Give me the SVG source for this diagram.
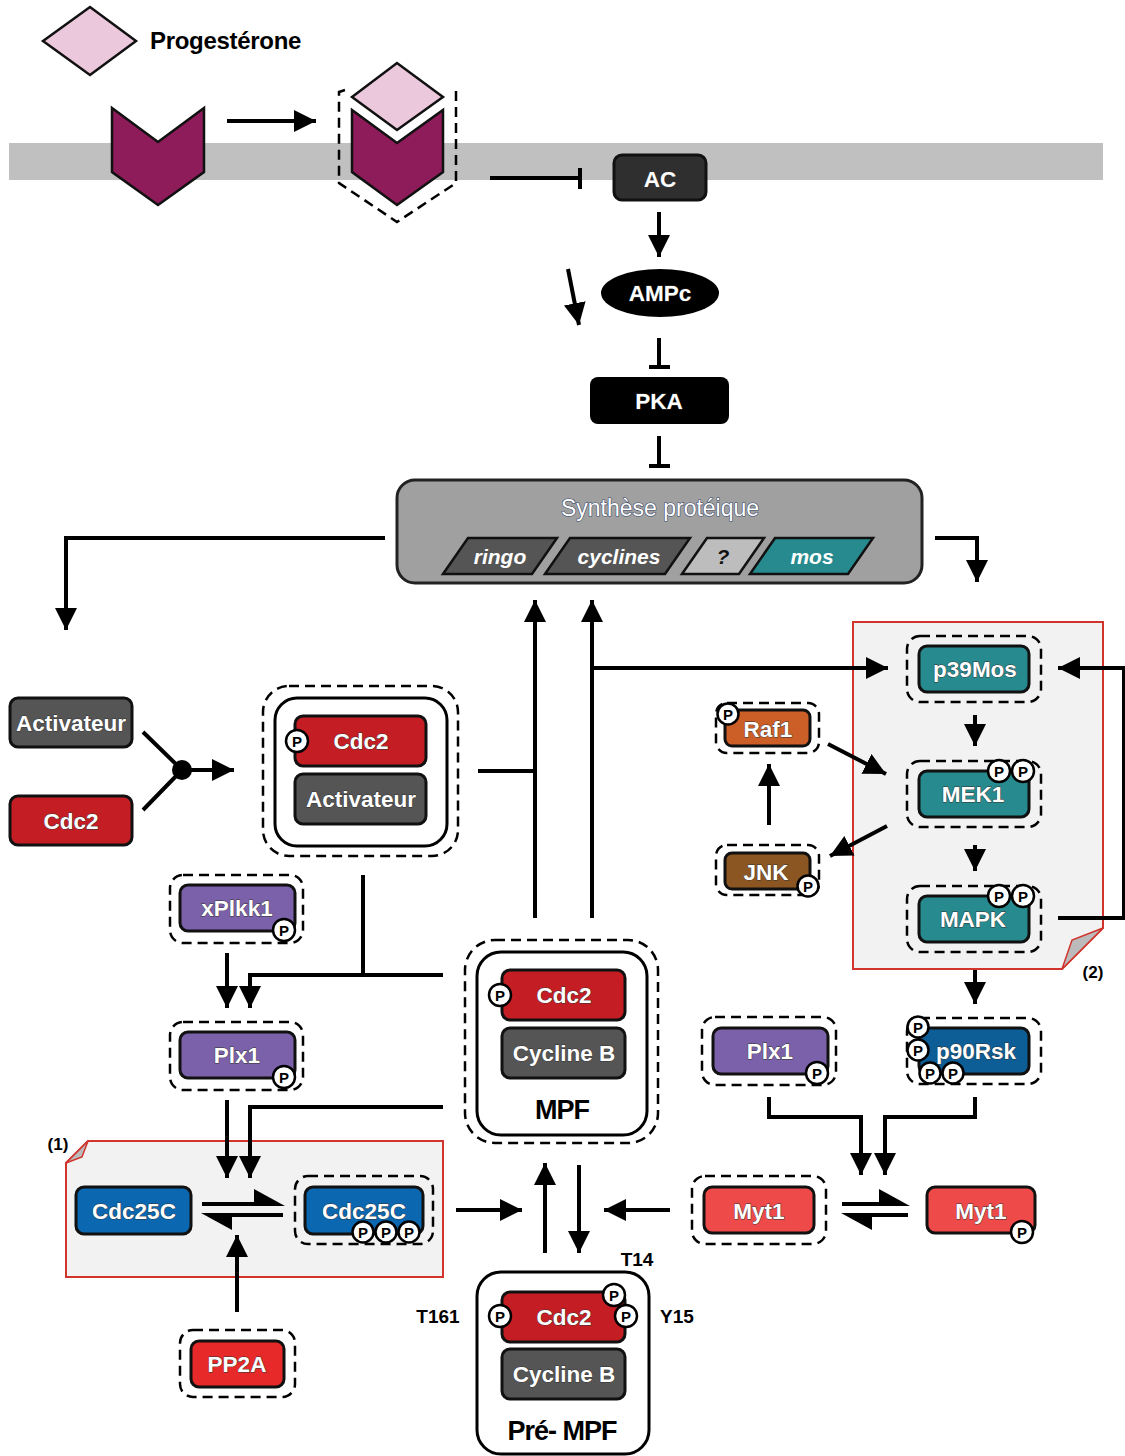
<svg xmlns="http://www.w3.org/2000/svg" width="1125" height="1456" viewBox="0 0 1125 1456">
<defs>
<marker id="arr" viewBox="0 0 10 10" refX="10" refY="5" markerWidth="22" markerHeight="22" markerUnits="userSpaceOnUse" orient="auto"><path d="M0,0 L10,5 L0,10 z" fill="#000"/></marker>
<style>
.c{fill:none;stroke:#000;stroke-width:4}
.dash{fill:none;stroke:#000;stroke-width:2.5;stroke-dasharray:10 6}
.box{stroke:#111;stroke-width:3}
.t{font-family:"Liberation Sans",Arial,sans-serif;font-weight:bold;font-size:22.5px;fill:#fff;text-anchor:middle;paint-order:stroke;stroke:#333;stroke-width:0.8}
.lbl{font-family:"Liberation Sans",Arial,sans-serif;font-weight:bold;fill:#000;text-anchor:middle}
.pc{fill:#fff;stroke:#000;stroke-width:2.5}
.pt{font-family:"Liberation Sans",Arial,sans-serif;font-weight:bold;font-size:15px;fill:#000;text-anchor:middle}
.it{font-family:"Liberation Sans",Arial,sans-serif;font-weight:bold;font-style:italic;font-size:21px;fill:#fff;text-anchor:middle}
.red{fill:#c41e24}.gray{fill:#555}.purple{fill:#7b61a9}.teal{fill:#268a8e}.blue{fill:#0a67b0}
</style>
</defs>
<rect width="1125" height="1456" fill="#fff"/>
<!-- membrane -->
<rect x="9" y="143" width="1094" height="37" fill="#c0c0c0"/>

<g id="progesterone">
<polygon points="43,41 90,7 136,41 90,75" fill="#ecc8dc" stroke="#111" stroke-width="2.5"/>
<text x="150" y="49" class="lbl" style="text-anchor:start;font-size:24px;letter-spacing:-0.3px">Progestérone</text>
</g>
<g id="receptor">
<polygon points="112,108 158,142 204,108 204,172 158,205 112,172" fill="#8e1b5a" stroke="#111" stroke-width="2.5"/>
</g>
<g id="receptor-bound">
<polygon points="352,110 397,143 443,110 443,172 397,205 352,172" fill="#8e1b5a" stroke="#111" stroke-width="2.5"/>
<polygon points="352,97 397,63 443,97 397,130" fill="#ecc8dc" stroke="#111" stroke-width="2.5"/>
<path d="M345,90 L339,92 L339,183 L397,222 L456,183 L456,85" class="dash"/>
</g>
<g id="AC">
<rect x="614" y="155" width="92" height="45" rx="8" fill="#2f2f2f" class="box"/>
<text x="660" y="187" class="t">AC</text>
</g>
<g id="AMPc">
<ellipse cx="660" cy="293" rx="59" ry="24" fill="#000"/>
<text x="660" y="301" class="t">AMPc</text>
</g>
<g id="PKA">
<rect x="590" y="377" width="139" height="47" rx="8" fill="#000"/>
<text x="659" y="409" class="t">PKA</text>
</g>
<g id="synthese">
<rect x="397" y="480" width="525" height="103" rx="18" fill="#a0a0a0" stroke="#222" stroke-width="3"/>
<text x="660" y="516" style="font-family:'Liberation Sans',Arial,sans-serif;font-size:23px;fill:#fff;text-anchor:middle;paint-order:stroke;stroke:#3a4a6a;stroke-width:1.2">Synthèse protéique</text>
<polygon points="443,574 468,538 557,538 532,574" fill="#555" stroke="#111" stroke-width="2.5"/>
<text x="500" y="564" class="it">ringo</text>
<polygon points="545,574 570,538 690,538 665,574" fill="#555" stroke="#111" stroke-width="2.5"/>
<text x="619" y="564" class="it">cyclines</text>
<polygon points="682,574 707,538 764,538 739,574" fill="#bdbdbd" stroke="#111" stroke-width="2.5"/>
<text x="723" y="564" class="it" style="fill:#111">?</text>
<polygon points="750,574 775,538 873,538 848,574" fill="#268a8e" stroke="#111" stroke-width="2.5"/>
<text x="812" y="564" class="it">mos</text>
</g>

<g id="activateur">
<rect x="10" y="698" width="122" height="49" rx="8" class="gray box"/>
<text x="71" y="731" class="t">Activateur</text>
</g>
<g id="cdc2">
<rect x="10" y="796" width="122" height="49" rx="8" class="red box"/>
<text x="71" y="829" class="t">Cdc2</text>
</g>
<g id="complex-cdc2-activateur">
<rect x="263" y="686" width="195" height="170" rx="26" class="dash"/>
<rect x="275" y="698" width="172" height="148" rx="22" fill="#fff" stroke="#000" stroke-width="3"/>
<rect x="295" y="716" width="131" height="50" rx="8" class="red box"/>
<text x="361" y="749" class="t">Cdc2</text>
<circle cx="297" cy="741" r="11" class="pc"/><text x="297" y="746.5" class="pt">P</text>
<rect x="295" y="774" width="131" height="50" rx="8" class="gray box"/>
<text x="361" y="807" class="t">Activateur</text>
</g>

<g id="xPlkk1">
<rect x="170" y="875" width="133" height="68" rx="13" class="dash"/>
<rect x="180" y="885" width="115" height="46" rx="8" class="purple box"/>
<text x="237" y="916" class="t">xPlkk1</text>
<circle cx="284" cy="930" r="11" class="pc"/><text x="284" y="935.5" class="pt">P</text>
</g>
<g id="Plx1-left">
<rect x="170" y="1022" width="133" height="68" rx="13" class="dash"/>
<rect x="180" y="1032" width="115" height="46" rx="8" class="purple box"/>
<text x="237" y="1063" class="t">Plx1</text>
<circle cx="284" cy="1077" r="11" class="pc"/><text x="284" y="1082.5" class="pt">P</text>
</g>

<g id="box1">
<path d="M88,1141 L443,1141 L443,1277 L66,1277 L66,1163 Z" fill="#f2f2f2" stroke="#d0342c" stroke-width="2"/>
<path d="M66,1163 L88,1141 L82,1157 Z" fill="#bbb" stroke="#d0342c" stroke-width="1.5"/>
<text x="58" y="1150" class="lbl" style="font-size:17px">(1)</text>
</g>
<g id="Cdc25C">
<rect x="76" y="1187" width="115" height="47" rx="8" class="blue box"/>
<text x="134" y="1219" class="t">Cdc25C</text>
</g>
<g id="Cdc25C-P">
<rect x="295" y="1176" width="138" height="68" rx="13" class="dash"/>
<rect x="305" y="1187" width="118" height="47" rx="8" class="blue box"/>
<text x="364" y="1219" class="t">Cdc25C</text>
<circle cx="363" cy="1232" r="10.5" class="pc"/><text x="363" y="1237.5" class="pt">P</text>
<circle cx="386" cy="1232" r="10.5" class="pc"/><text x="386" y="1237.5" class="pt">P</text>
<circle cx="409" cy="1232" r="10.5" class="pc"/><text x="409" y="1237.5" class="pt">P</text>
</g>
<g id="PP2A">
<rect x="180" y="1330" width="115" height="67" rx="13" class="dash"/>
<rect x="191" y="1341" width="93" height="46" rx="8" fill="#e8292a" class="box"/>
<text x="237" y="1372" class="t">PP2A</text>
</g>

<g id="MPF">
<rect x="465" y="940" width="193" height="203" rx="30" class="dash"/>
<rect x="477" y="952" width="170" height="183" rx="24" fill="#fff" stroke="#000" stroke-width="3"/>
<rect x="502" y="970" width="123" height="50" rx="8" class="red box"/>
<text x="564" y="1003" class="t">Cdc2</text>
<circle cx="500" cy="995" r="11" class="pc"/><text x="500" y="1000.5" class="pt">P</text>
<rect x="502" y="1028" width="123" height="50" rx="8" class="gray box"/>
<text x="564" y="1061" class="t">Cycline B</text>
<text x="562" y="1119" class="lbl" style="font-size:27px;letter-spacing:-1px">MPF</text>
</g>

<g id="pre-MPF">
<rect x="477" y="1272" width="172" height="182" rx="24" fill="#fff" stroke="#000" stroke-width="3"/>
<rect x="502" y="1292" width="123" height="50" rx="8" class="red box"/>
<text x="564" y="1325" class="t">Cdc2</text>
<circle cx="500" cy="1316" r="11" class="pc"/><text x="500" y="1321.5" class="pt">P</text>
<circle cx="614" cy="1295" r="11" class="pc"/><text x="614" y="1300.5" class="pt">P</text>
<circle cx="626" cy="1316" r="11" class="pc"/><text x="626" y="1321.5" class="pt">P</text>
<rect x="502" y="1349" width="123" height="50" rx="8" class="gray box"/>
<text x="564" y="1382" class="t">Cycline B</text>
<text x="562" y="1440" class="lbl" style="font-size:27px;letter-spacing:-1px">Pré- MPF</text>
<text x="438" y="1323" class="lbl" style="font-size:19px">T161</text>
<text x="637" y="1266" class="lbl" style="font-size:19px">T14</text>
<text x="677" y="1323" class="lbl" style="font-size:19px">Y15</text>
</g>

<g id="box2">
<path d="M853,622 L1103,622 L1103,928 L1062,969 L853,969 Z" fill="#f2f2f2" stroke="#d0342c" stroke-width="2"/>
<path d="M1103,928 L1062,969 L1072,940 Z" fill="#bbb" stroke="#d0342c" stroke-width="1.5"/>
<text x="1093" y="978" class="lbl" style="font-size:17px">(2)</text>
</g>
<g id="p39Mos">
<rect x="907" y="636" width="134" height="66" rx="13" class="dash"/>
<rect x="919" y="646" width="110" height="46" rx="8" class="teal box"/>
<text x="975" y="677" class="t">p39Mos</text>
</g>
<g id="MEK1">
<rect x="907" y="761" width="134" height="66" rx="13" class="dash"/>
<rect x="919" y="771" width="110" height="46" rx="8" class="teal box"/>
<text x="973" y="802" class="t">MEK1</text>
<circle cx="999" cy="771" r="11" class="pc"/><text x="999" y="776.5" class="pt">P</text>
<circle cx="1023" cy="771" r="11" class="pc"/><text x="1023" y="776.5" class="pt">P</text>
</g>
<g id="MAPK">
<rect x="907" y="886" width="134" height="66" rx="13" class="dash"/>
<rect x="919" y="896" width="110" height="46" rx="8" class="teal box"/>
<text x="973" y="927" class="t">MAPK</text>
<circle cx="999" cy="896" r="11" class="pc"/><text x="999" y="901.5" class="pt">P</text>
<circle cx="1023" cy="896" r="11" class="pc"/><text x="1023" y="901.5" class="pt">P</text>
</g>
<g id="p90Rsk">
<rect x="907" y="1018" width="134" height="66" rx="13" class="dash"/>
<rect x="919" y="1028" width="110" height="46" rx="8" fill="#0d5e96" class="box"/>
<text x="976" y="1059" class="t">p90Rsk</text>
<circle cx="918" cy="1027" r="10.5" class="pc"/><text x="918" y="1032.5" class="pt">P</text>
<circle cx="918" cy="1050" r="10.5" class="pc"/><text x="918" y="1055.5" class="pt">P</text>
<circle cx="930" cy="1073" r="10.5" class="pc"/><text x="930" y="1078.5" class="pt">P</text>
<circle cx="953" cy="1073" r="10.5" class="pc"/><text x="953" y="1078.5" class="pt">P</text>
</g>
<g id="Raf1">
<rect x="716" y="703" width="103" height="50" rx="11" class="dash"/>
<rect x="725" y="710" width="85" height="36" rx="7" fill="#cc5f28" class="box"/>
<text x="768" y="737" class="t">Raf1</text>
<circle cx="728" cy="714" r="10.5" class="pc"/><text x="728" y="719.5" class="pt">P</text>
</g>
<g id="JNK">
<rect x="716" y="845" width="103" height="50" rx="11" class="dash"/>
<rect x="725" y="853" width="85" height="36" rx="7" fill="#8c5622" class="box"/>
<text x="766" y="880" class="t">JNK</text>
<circle cx="808" cy="886" r="10.5" class="pc"/><text x="808" y="891.5" class="pt">P</text>
</g>
<g id="Plx1-right">
<rect x="702" y="1017" width="134" height="68" rx="13" class="dash"/>
<rect x="713" y="1028" width="115" height="46" rx="8" class="purple box"/>
<text x="770" y="1059" class="t">Plx1</text>
<circle cx="817" cy="1073" r="11" class="pc"/><text x="817" y="1078.5" class="pt">P</text>
</g>
<g id="Myt1">
<rect x="692" y="1176" width="134" height="68" rx="13" class="dash"/>
<rect x="704" y="1187" width="110" height="46" rx="8" fill="#ef4a4a" class="box"/>
<text x="759" y="1219" class="t">Myt1</text>
</g>
<g id="Myt1-P">
<rect x="927" y="1187" width="108" height="46" rx="8" fill="#ef4a4a" class="box"/>
<text x="981" y="1219" class="t">Myt1</text>
<circle cx="1022" cy="1232" r="11" class="pc"/><text x="1022" y="1237.5" class="pt">P</text>
</g>

<g id="connectors">
<line x1="227" y1="121" x2="316" y2="121" class="c" marker-end="url(#arr)"/>
<path d="M490,178 H580 M580,168 V189" class="c"/>
<line x1="659" y1="212" x2="659" y2="257" class="c" marker-end="url(#arr)"/>
<line x1="568" y1="269" x2="579" y2="325" class="c" marker-end="url(#arr)"/>
<path d="M659,338 V367 M649,367 H670" class="c"/>
<path d="M659,436 V466 M649,466 H670" class="c"/>
<path d="M385,538 H66 V630" class="c" marker-end="url(#arr)"/>
<path d="M935,538 H977 V582" class="c" marker-end="url(#arr)"/>
<line x1="535" y1="918" x2="535" y2="600" class="c" marker-end="url(#arr)"/>
<line x1="592" y1="918" x2="592" y2="600" class="c" marker-end="url(#arr)"/>
<path d="M592,668 H888" class="c" marker-end="url(#arr)"/>
<path d="M478,771 H535" class="c"/>
<path d="M143,732 L182,770 L143,810" class="c"/>
<circle cx="182" cy="770" r="10" fill="#000"/>
<line x1="182" y1="770" x2="234" y2="770" class="c" marker-end="url(#arr)"/>
<path d="M363,875 V975" class="c"/>
<path d="M443,975 H250 V1008" class="c" marker-end="url(#arr)"/>
<line x1="227" y1="953" x2="227" y2="1008" class="c" marker-end="url(#arr)"/>
<line x1="227" y1="1100" x2="227" y2="1178" class="c" marker-end="url(#arr)"/>
<path d="M443,1107 H250 V1178" class="c" marker-end="url(#arr)"/>
<!-- Cdc25C equilibrium -->
<path d="M202,1204 H270" class="c"/><path d="M254,1189 L285,1206 L254,1206 Z" fill="#000"/>
<path d="M283,1215 H215" class="c"/><path d="M232,1230 L201,1213 L232,1213 Z" fill="#000"/>
<line x1="237" y1="1312" x2="237" y2="1235" class="c" marker-end="url(#arr)"/>
<line x1="456" y1="1210" x2="522" y2="1210" class="c" marker-end="url(#arr)"/>
<line x1="545" y1="1253" x2="545" y2="1163" class="c" marker-end="url(#arr)"/>
<line x1="579" y1="1165" x2="579" y2="1253" class="c" marker-end="url(#arr)"/>
<line x1="670" y1="1210" x2="604" y2="1210" class="c" marker-end="url(#arr)"/>
<!-- Myt1 equilibrium -->
<path d="M842,1204 H895" class="c"/><path d="M879,1189 L910,1206 L879,1206 Z" fill="#000"/>
<path d="M908,1215 H855" class="c"/><path d="M872,1230 L841,1213 L872,1213 Z" fill="#000"/>
<path d="M769,1097 V1117 H861 V1175" class="c" marker-end="url(#arr)"/>
<path d="M975,1097 V1117 H885 V1175" class="c" marker-end="url(#arr)"/>
<!-- MAPK cascade -->
<line x1="975" y1="715" x2="975" y2="746" class="c" marker-end="url(#arr)"/>
<line x1="975" y1="845" x2="975" y2="871" class="c" marker-end="url(#arr)"/>
<line x1="975" y1="970" x2="975" y2="1004" class="c" marker-end="url(#arr)"/>
<path d="M1058,918 H1124 V668 H1058" class="c" marker-end="url(#arr)"/>
<line x1="769" y1="825" x2="769" y2="764" class="c" marker-end="url(#arr)"/>
<line x1="828" y1="744" x2="886" y2="774" class="c" marker-end="url(#arr)"/>
<line x1="887" y1="826" x2="830" y2="856" class="c" marker-end="url(#arr)"/>
</g>
</svg>
